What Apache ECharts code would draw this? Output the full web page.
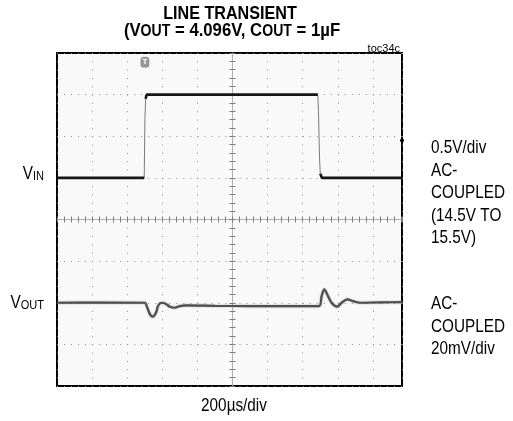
<!DOCTYPE html>
<html>
<head>
<meta charset="utf-8">
<script src="https://cdn.jsdelivr.net/npm/echarts@6/dist/echarts.min.js"></script>
<style>
  html, body { margin: 0; padding: 0; background: #fff; }
  #chart { width: 513px; height: 421px; }
</style>
</head>
<body>
<div id="chart"></div>
<script>
// Horizontal: 200 µs per division, 9.83 divisions on screen
const timeMin = 0;
const timeMax = 1966;
const timeDiv = 200;

// CH1: input step, volts (0.5 V/div, AC-coupled, 14.5 V to 15.5 V)
const vinTime  = [0, 497, 501, 505, 511, 1486, 1490, 1496, 1500, 1510, 1966];
const vinVolts = [14.5, 14.5, 15.2, 15.45, 15.5, 15.5, 15.3, 14.75, 14.55, 14.5, 14.5];

// CH2: output deviation, mV (20 mV/div, AC-coupled)
const voutTime = [0, 250, 501, 511, 530, 545, 564, 577, 596, 615, 644, 672, 701, 739,
                  900, 1100, 1300, 1493, 1508, 1523, 1540, 1565, 1597, 1622, 1654, 1688,
                  1726, 1850, 1966];
const voutMv   = [0, 0.1, 0, -1.6, -5.6, -6.7, -4.8, -1.3, 0, -0.3, -1.9, -2.4, -1.6, -1.3,
                  -1.5, -1.6, -1.6, -1.6, 3.2, 6.4, 4.0, 0, -1.9, 0, 1.6, 0.8,
                  0, 0.2, 0.3];

// Trigger position / level
const trigTime = 501;
const trigLevel = 14.95;

// Narrow sans look: Liberation Sans squeezed horizontally
const FONT = "'Liberation Sans', Arial, sans-serif";
const NARROW = 0.85;

const pairs = (xs, ys) => xs.map((x, i) => [x, ys[i]]);

// Flat parts of the input trace get the heavy pen; fast edges stay thin.
function plateaus(xs, ys) {
  const out = [];
  for (let i = 0; i < xs.length; i++) {
    const prevEdge = i > 0 && Math.abs(ys[i] - ys[i - 1]) > 0.1;
    const nextEdge = i < xs.length - 1 && Math.abs(ys[i + 1] - ys[i]) > 0.1;
    if (prevEdge && nextEdge) { out.push([xs[i], null]); continue; }
    if (prevEdge) out.push([xs[i] - 0.001, null]);
    out.push([xs[i], ys[i]]);
  }
  return out;
}

function label(x, y, text, font, align, extra) {
  return Object.assign({
    type: 'text', x: x, y: y, scaleX: NARROW, silent: true,
    style: Object.assign({ text: text, font: font, fill: '#000', align: align || 'left',
                           verticalAlign: 'top' }, extra || {})
  });
}

const chart = echarts.init(document.getElementById('chart'), null, { renderer: 'canvas' });

const tickStyle = { color: '#7a7a7a', width: 1 };
const hidden = { show: false };

const subRich = (big, small) => ({
  b: { font: big, fill: '#000', verticalAlign: 'bottom', lineHeight: 20 },
  s: { font: small, fill: '#000', verticalAlign: 'bottom', lineHeight: 20 }
});

chart.setOption({
  animation: false,
  backgroundColor: '#ffffff',
  grid: {
    left: 57, top: 53, width: 345, height: 333,
    show: true, backgroundColor: '#f9f9f9',
    borderColor: '#000', borderWidth: 2
  },
  xAxis: [
    { // main time axis, dotted vertical graticule
      type: 'value', min: timeMin, max: timeMax, interval: timeDiv,
      axisLine: { show: false, onZero: false }, axisTick: hidden, axisLabel: hidden,
      splitLine: { show: true, lineStyle: { color: '#8c8c8c', width: 1, type: [1, 7.32] } }
    },
    { // centre horizontal line, ticks upward
      type: 'value', min: timeMin, max: timeMax, interval: timeDiv / 5, position: 'bottom',
      axisLine: { show: true, onZero: true, onZeroAxisIndex: 2, lineStyle: { color: '#b0b0b0', width: 1 } },
      axisTick: { show: true, inside: true, length: 3, lineStyle: tickStyle },
      axisLabel: hidden, splitLine: hidden
    },
    { // centre horizontal line, ticks downward
      type: 'value', min: timeMin, max: timeMax, interval: timeDiv / 5, position: 'top',
      axisLine: { show: false, onZero: true, onZeroAxisIndex: 2 },
      axisTick: { show: true, inside: true, length: 3, lineStyle: tickStyle },
      axisLabel: hidden, splitLine: hidden
    },
    { // divisions relative to screen centre (reference for the vertical centre line)
      type: 'value', min: -5, max: 4.83, show: false
    }
  ],
  yAxis: [
    { // CH1 volts, dotted horizontal graticule
      type: 'value', min: 12, max: 16, interval: 0.5,
      axisLine: { show: false, onZero: false }, axisTick: hidden, axisLabel: hidden,
      splitLine: { show: true, lineStyle: { color: '#8c8c8c', width: 1, type: [1, 6.02] } }
    },
    { // CH2 millivolts
      type: 'value', min: -40, max: 120, interval: 20, show: false
    },
    { // divisions relative to screen centre
      type: 'value', min: -4, max: 4, show: false
    },
    { // centre vertical line, ticks to the right
      type: 'value', min: 0, max: 8, interval: 0.2, position: 'left',
      axisLine: { show: true, onZero: true, onZeroAxisIndex: 3, lineStyle: { color: '#b0b0b0', width: 1 } },
      axisTick: { show: true, inside: true, length: 3, lineStyle: tickStyle },
      axisLabel: hidden, splitLine: hidden
    },
    { // centre vertical line, ticks to the left
      type: 'value', min: 0, max: 8, interval: 0.2, position: 'right',
      axisLine: { show: false, onZero: true, onZeroAxisIndex: 3 },
      axisTick: { show: true, inside: true, length: 3, lineStyle: tickStyle },
      axisLabel: hidden, splitLine: hidden
    }
  ],
  series: [
    {
      name: 'VIN edges', type: 'line', xAxisIndex: 0, yAxisIndex: 0,
      data: pairs(vinTime, vinVolts), symbol: 'none', z: 3,
      lineStyle: { color: '#7a7a7a', width: 1 },
      markPoint: {
        silent: true,
        data: [
          {
            coord: [trigTime, 15.89], symbol: 'roundRect', symbolSize: [8, 10],
            itemStyle: { color: '#9a9a9a', borderColor: '#6a6a6a', borderWidth: 0.5 },
            label: { show: true, formatter: 'T', color: '#fff', fontSize: 8, fontWeight: 'bold',
                     fontFamily: FONT }
          },
          {
            coord: [timeMax, trigLevel], symbol: 'circle', symbolSize: 4,
            itemStyle: { color: '#000' }, label: { show: false }
          }
        ]
      }
    },
    {
      name: 'VIN', type: 'line', xAxisIndex: 0, yAxisIndex: 0,
      data: plateaus(vinTime, vinVolts), symbol: 'none', connectNulls: false, z: 4,
      lineStyle: { color: '#161616', width: 2.6 }
    },
    {
      name: 'VOUT', type: 'line', xAxisIndex: 0, yAxisIndex: 1,
      data: pairs(voutTime, voutMv), symbol: 'none', smooth: 0.3, z: 4,
      lineStyle: { color: '#505050', width: 2.2, shadowColor: 'rgba(100,100,100,0.7)', shadowBlur: 1.5 }
    }
  ],
  graphic: [
    label(230, 4, 'LINE TRANSIENT', 'bold 19px ' + FONT, 'center'),
    Object.assign(label(232, 20, '{b|(V}{s|OUT}{b| = 4.096V, C}{s|OUT}{b| = 1µF}', '', 'center',
      { rich: subRich('bold 19px ' + FONT, 'bold 16px ' + FONT) }), { scaleX: 0.88 }),
    Object.assign(label(400, 43, 'toc34c', '11px ' + FONT, 'right'), { scaleX: 1 }),
    label(44, 163, '{b|V}{s|IN}', '', 'right', { rich: subRich('18px ' + FONT, '13px ' + FONT) }),
    label(44, 292, '{b|V}{s|OUT}', '', 'right', { rich: subRich('18px ' + FONT, '13px ' + FONT) }),
    label(431, 137, '0.5V/div\nAC-\nCOUPLED\n(14.5V TO\n15.5V)', '18px ' + FONT, 'left',
      { lineHeight: 22.5 }),
    label(431, 293, 'AC-\nCOUPLED\n20mV/div', '18px ' + FONT, 'left', { lineHeight: 22.5 }),
    label(234, 397, '200µs/div', '18px ' + FONT, 'center')
  ]
});
</script>
</body>
</html>
